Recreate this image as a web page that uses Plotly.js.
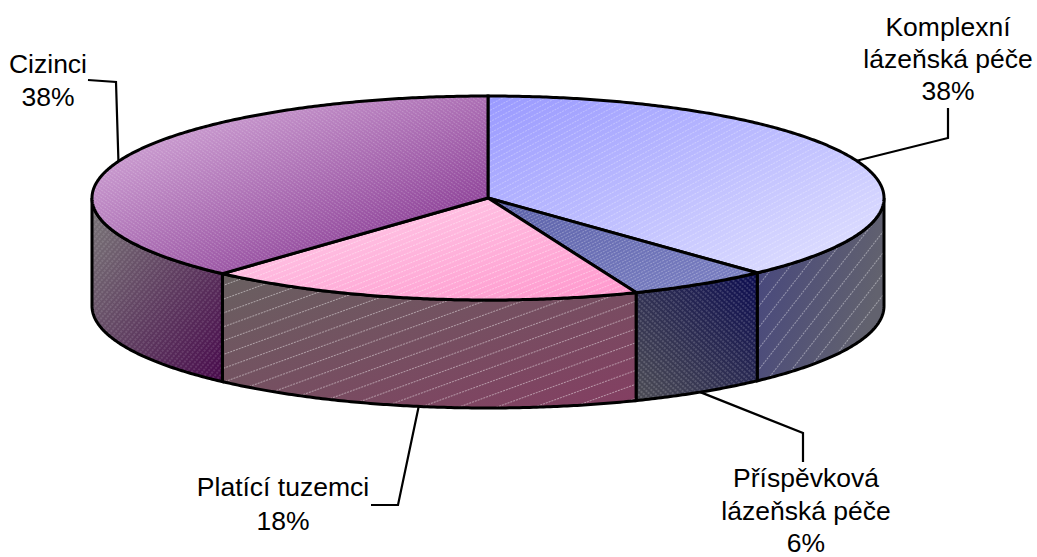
<!DOCTYPE html>
<html>
<head>
<meta charset="utf-8">
<script src="https://cdn.plot.ly/plotly-3.0.1.min.js"></script>
<style>html,body{margin:0;padding:0;background:#fff}#chart{width:1037px;height:557px}</style>
</head>
<body>
<div id="chart"></div>
<script>
// Data
const categories = ["Komplexní lázeňská péče", "Příspěvková lázeňská péče", "Platící tuzemci", "Cizinci"];
const shares = [38.1, 5.8, 17.8, 38.3];
const labelLines = [["Komplexní", "lázeňská péče", "38%"], ["Příspěvková", "lázeňská péče", "6%"], ["Platící tuzemci", "18%"], ["Cizinci", "38%"]];

// Geometry and style
const CX = 488, CY = 198, RX = 396, RY = 102, DEPTH = 108;
const topColors = [["#9999ff", "#e4e4ff"], ["#5a60a8", "#7d82c4"], ["#ffd2ec", "#ff96cc"], ["#dcb6e0", "#7c2888"]];
const sideColors = [["#45457f", "#62626e"], ["#4c4c54", "#0c0c50"], ["#686060", "#843e62"], ["#7a7878", "#480a4c"]];
const gradDirs = [[0, 0, 1, 0.35], [0, 1, 1, 0], [0, 0, 1, 1], [0, 0, 1, 1]];
const topHatch = [[5, -28, .14], [3, -28, .14], [5, -22, .18], [3, 35, .1]];
const sideHatch = [[13, -52, .2], [4, 42, .16], [13, -20, .22], [4, -50, .12]];
const labelPos = [[[948, 29], [948, 61], [948, 93]], [[806, 480], [806, 513], [806, 545]], [[283, 489], [283, 523]], [[48, 66], [48, 99]]];
const elbows = [[[948, 138], [948, 108]], [[803, 433], [803, 462]], [[398, 505], [371, 505]], [[116, 82], [88, 80]]];

const rad = d => d * Math.PI / 180;
const px = a => CX + RX * Math.sin(rad(a));
const py = (a, z) => CY - RY * Math.cos(rad(a)) + (z || 0);
function arc(a0, a1, z) {
  const n = Math.max(2, Math.ceil(Math.abs(a1 - a0) * 2));
  const xs = [], ys = [];
  for (let i = 0; i <= n; i++) {
    const a = a0 + (a1 - a0) * i / n;
    xs.push(px(a)); ys.push(py(a, z));
  }
  return [xs, ys];
}

// slice angles from the values
const total = shares.reduce((s, v) => s + v, 0);
let acc = 0;
const spans = shares.map(v => { const s = [acc * 360 / total, (acc + v) * 360 / total]; acc += v; return s; });

const traces = [], hatchOf = [];
const line = {color: "#000", width: 3, shape: "linear", simplify: false};
function poly(xs, ys, cols, dir, hatch) {
  hatchOf[traces.length] = {dir, hatch};
  traces.push({x: xs, y: ys, mode: "lines", fill: "toself", line,
    fillgradient: {type: "horizontal", colorscale: [[0, cols[1]], [1, cols[0]]]}, hoverinfo: "skip", showlegend: false});
}

// leader lines, starting at the middle of each slice's rim
spans.forEach((s, i) => {
  const m = (s[0] + s[1]) / 2;
  const front = Math.cos(rad(m)) < 0;
  traces.push({x: [px(m)].concat(elbows[i].map(p => p[0])), y: [py(m, front ? DEPTH : 0)].concat(elbows[i].map(p => p[1])),
    mode: "lines", line: {color: "#000", width: 2.2}, hoverinfo: "skip", showlegend: false});
});

// side walls (only the front half of the rim is visible)
spans.forEach((s, i) => {
  const a0 = Math.max(s[0], 90), a1 = Math.min(s[1], 270);
  if (a1 <= a0) return;
  const t = arc(a0, a1, 0), b = arc(a1, a0, DEPTH);
  poly(t[0].concat(b[0], [t[0][0]]), t[1].concat(b[1], [t[1][0]]), sideColors[i], gradDirs[i], sideHatch[i]);
});
// top faces
spans.forEach((s, i) => {
  const t = arc(s[0], s[1], 0);
  poly([CX].concat(t[0], [CX]), [CY].concat(t[1], [CY]), topColors[i], [0, 0, 1, 1], topHatch[i]);
});

// labels, one text point per line
const lx = [], ly = [], lt = [];
labelLines.forEach((lines, i) => lines.forEach((txt, j) => {
  lx.push(labelPos[i][j][0]); ly.push(labelPos[i][j][1]); lt.push(txt);
}));
traces.push({x: lx, y: ly, text: lt, mode: "text", textposition: "middle center", cliponaxis: false,
  textfont: {family: "Liberation Sans, Arial, sans-serif", size: 26.5, color: "#000"}, hoverinfo: "skip", showlegend: false});

const layout = {
  width: 1037, height: 557, margin: {l: 0, r: 0, t: 0, b: 0},
  paper_bgcolor: "#fff", plot_bgcolor: "#fff", showlegend: false,
  xaxis: {range: [0, 1037], visible: false, fixedrange: true},
  yaxis: {range: [557, 0], visible: false, fixedrange: true}
};

Plotly.newPlot("chart", traces, layout, {staticPlot: true, displayModeBar: false}).then(gd => {
  const NS = "http://www.w3.org/2000/svg";
  const svg = gd.querySelector(".main-svg");
  const defs = svg.querySelector("defs");
  const groups = gd.querySelectorAll(".scatterlayer .trace");
  groups.forEach((g, idx) => {
    const cfg = hatchOf[idx];
    const path = g.querySelector("path.js-fill");
    if (!cfg || !path) return;
    // diagonal gradient
    const m = /#([^"')]+)/.exec(path.style.fill || path.getAttribute("style") || "");
    const grad = m && document.getElementById(m[1]);
    if (grad) {
      grad.setAttribute("gradientUnits", "objectBoundingBox");
      ["x1", "y1", "x2", "y2"].forEach((k, q) => grad.setAttribute(k, cfg.dir[q]));
    }
    // fine hatching overlay
    const [gap, ang, op] = cfg.hatch;
    const pat = document.createElementNS(NS, "pattern");
    pat.id = "hatch" + idx;
    pat.setAttribute("patternUnits", "userSpaceOnUse");
    pat.setAttribute("width", 12); pat.setAttribute("height", gap);
    pat.setAttribute("patternTransform", "rotate(" + ang + ")");
    const l = document.createElementNS(NS, "line");
    l.setAttribute("x1", 0); l.setAttribute("x2", 12); l.setAttribute("y1", gap / 2); l.setAttribute("y2", gap / 2);
    l.setAttribute("stroke", "#fff"); l.setAttribute("stroke-width", 1); l.setAttribute("stroke-opacity", op * 2);
    l.setAttribute("stroke-dasharray", "2 1");
    pat.appendChild(l); defs.appendChild(pat);
    const clone = path.cloneNode(false);
    clone.classList.remove("js-fill");
    clone.style.fill = "url(#hatch" + idx + ")";
    clone.style.stroke = "none";
    path.parentNode.insertBefore(clone, path.nextSibling);
  });
});
</script>
</body>
</html>
